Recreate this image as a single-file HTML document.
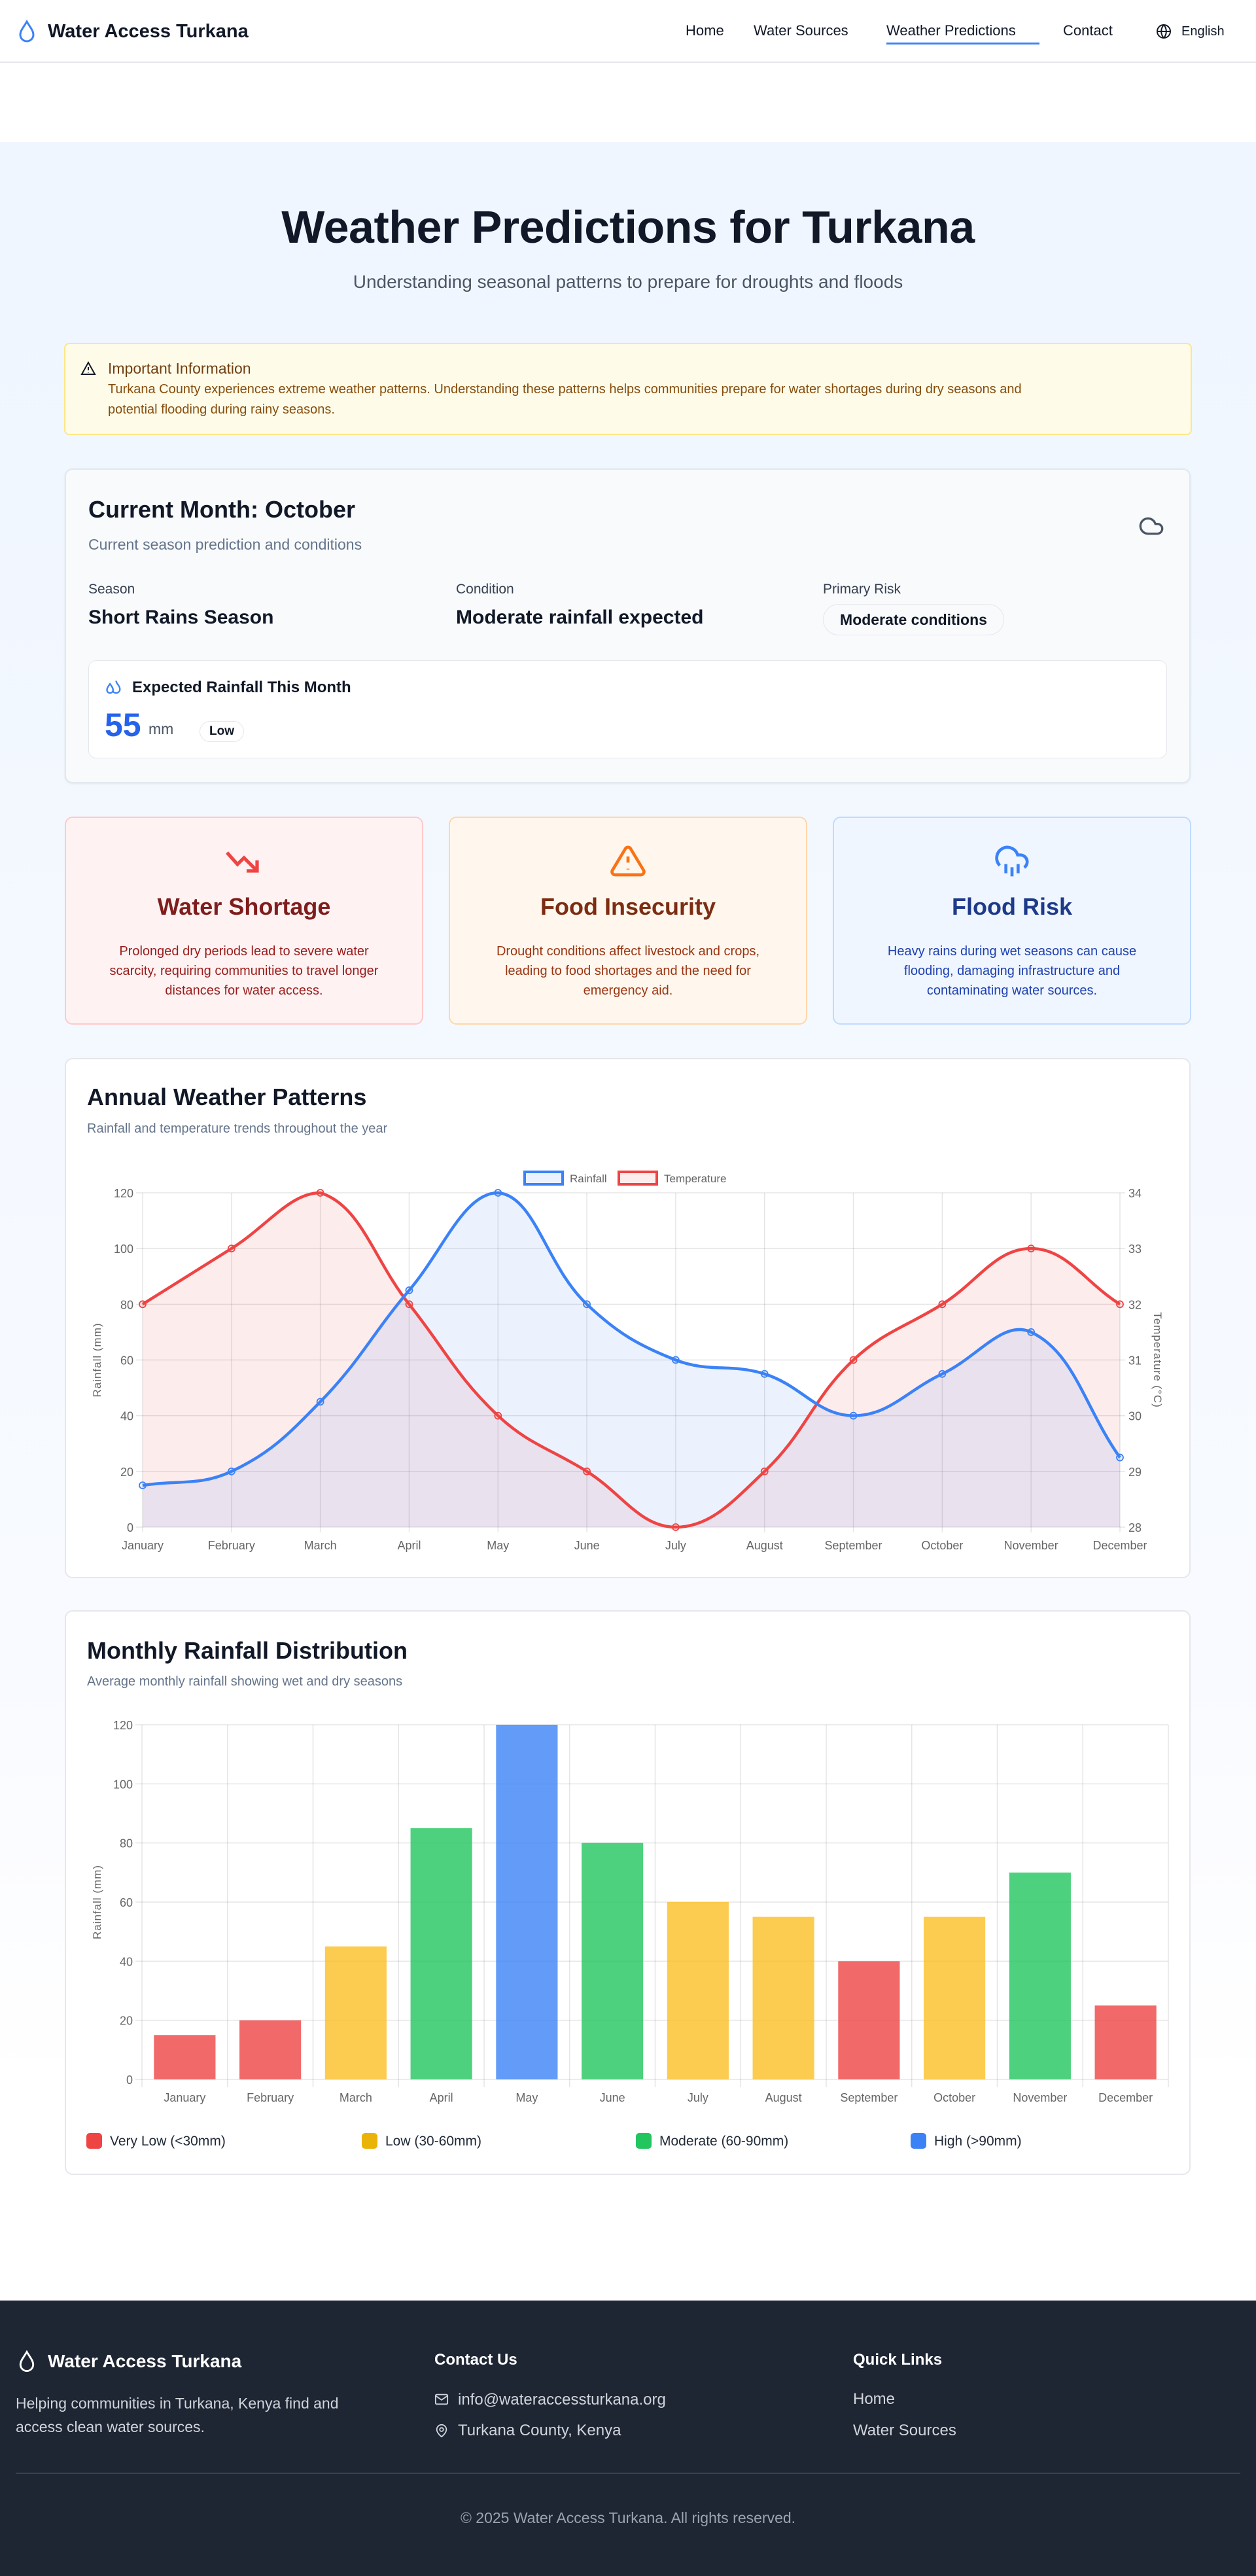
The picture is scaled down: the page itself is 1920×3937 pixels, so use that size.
<!DOCTYPE html>
<html><head><meta charset="utf-8"><title>Weather Predictions for Turkana</title>
<style>
*{margin:0;padding:0;box-sizing:border-box}
body{width:1920px;height:3937px;position:relative;font-family:"Liberation Sans",sans-serif;color:#111827;background:#fff;overflow:hidden}
.a{position:absolute;white-space:nowrap}
.card{position:absolute;border-radius:12px}
svg{position:absolute;left:0}
</style></head><body>
<div class="a" style="left:0;top:217px;width:1920px;height:3299px;background:linear-gradient(#eff6ff,#f8faff 70%,#ffffff 90%)"></div>

<!-- NAV -->
<div class="a" style="left:0;top:0;width:1920px;height:96px;background:#fff;border-bottom:2px solid #e5e7eb"></div>
<svg style="left:26px;top:30px" width="30" height="36" viewBox="0 0 24 28"><path d="M12 2C8 9 4 13 4 18a8 8 0 0 0 16 0c0-5-4-9-8-16z" fill="none" stroke="#3b82f6" stroke-width="2.4"/></svg>
<div class="a" style="left:73px;top:30px;font-size:29px;font-weight:bold;line-height:36px">Water Access Turkana</div>
<div class="a" style="left:1048px;top:33px;font-size:22px;line-height:28px">Home</div>
<div class="a" style="left:1152px;top:33px;font-size:22px;line-height:28px">Water Sources</div>
<div class="a" style="left:1355px;top:33px;font-size:22px;line-height:28px;width:234px">Weather Predictions</div>
<div class="a" style="left:1355px;top:65px;width:234px;height:3px;background:#3b82f6"></div>
<div class="a" style="left:1625px;top:33px;font-size:22px;line-height:28px">Contact</div>
<svg style="left:1767px;top:36px" width="24" height="24" viewBox="0 0 24 24"><g fill="none" stroke="#111827" stroke-width="2"><circle cx="12" cy="12" r="10"/><path d="M2 12h20M12 2a15 15 0 0 1 0 20M12 2a15 15 0 0 0 0 20"/></g></svg>
<div class="a" style="left:1806px;top:35px;font-size:20px;line-height:26px">English</div>

<!-- HERO -->
<div class="a" style="left:0;width:1920px;text-align:center;top:305px;font-size:70px;font-weight:bold;line-height:84px;letter-spacing:-0.5px">Weather Predictions for Turkana</div>
<div class="a" style="left:0;width:1920px;text-align:center;top:414px;font-size:28px;line-height:34px;color:#4b5563">Understanding seasonal patterns to prepare for droughts and floods</div>

<!-- ALERT -->
<div class="card" style="left:98px;top:524px;width:1724px;height:141px;background:#fefce8;border:2px solid #fde68a;border-radius:8px"></div>
<svg style="left:123px;top:551px" width="24" height="24" viewBox="0 0 24 24"><g fill="none" stroke="#111827" stroke-width="2"><path d="M12 3 2 21h20z"/><path d="M12 10v5M12 18v.5"/></g></svg>
<div class="a" style="left:165px;top:549px;font-size:23px;line-height:28px;color:#713f12">Important Information</div>
<div class="a" style="left:165px;top:580px;font-size:20px;line-height:31px;color:#854d0e;white-space:normal;width:1580px">Turkana County experiences extreme weather patterns. Understanding these patterns helps communities prepare for water shortages during dry seasons and<br>potential flooding during rainy seasons.</div>

<!-- CURRENT MONTH -->
<div class="card" style="left:99px;top:716px;width:1721px;height:481px;background:#f8fafc;border:2px solid #e2e8f0;box-shadow:0 1px 3px rgba(0,0,0,.08)"></div>
<div class="a" style="left:135px;top:757px;font-size:36px;line-height:44px;font-weight:600">Current Month: October</div>
<div class="a" style="left:135px;top:817px;font-size:23px;line-height:30px;color:#64748b">Current season prediction and conditions</div>
<svg style="left:1737px;top:784px" width="46" height="40" viewBox="0 0 24 24"><path d="M17.5 19H9a7 7 0 1 1 6.7-9h1.8a4.5 4.5 0 1 1 0 9z" fill="none" stroke="#4b5563" stroke-width="2"/></svg>
<div class="a" style="left:135px;top:888px;font-size:21px;line-height:26px;color:#374151">Season</div>
<div class="a" style="left:135px;top:926px;font-size:30px;line-height:36px;font-weight:600">Short Rains Season</div>
<div class="a" style="left:697px;top:888px;font-size:21px;line-height:26px;color:#374151">Condition</div>
<div class="a" style="left:697px;top:926px;font-size:30px;line-height:36px;font-weight:600">Moderate rainfall expected</div>
<div class="a" style="left:1258px;top:888px;font-size:21px;line-height:26px;color:#374151">Primary Risk</div>
<div class="a" style="left:1258px;top:923px;width:277px;height:48px;border:1px solid #e5e7eb;border-radius:24px;background:#f8fafc;font-size:23px;font-weight:600;line-height:46px;text-align:center">Moderate conditions</div>
<div class="card" style="left:135px;top:1009px;width:1649px;height:150px;background:#fff;border:1px solid #e5e7eb"></div>
<svg style="left:160px;top:1037px" width="28" height="28" viewBox="0 0 24 24"><g fill="none" stroke="#3b82f6" stroke-width="2"><path d="M7 7c-2 3-4 5-4 8a4 4 0 0 0 8 0c0-3-2-5-4-8z"/><path d="M15 3c0 4 5 6 5 11a5 5 0 0 1-9 3"/></g></svg>
<div class="a" style="left:202px;top:1036px;font-size:24px;line-height:30px;font-weight:600">Expected Rainfall This Month</div>
<div class="a" style="left:160px;top:1080px;font-size:50px;line-height:56px;font-weight:bold;color:#2563eb">55</div>
<div class="a" style="left:227px;top:1100px;font-size:23px;line-height:28px;color:#4b5563">mm</div>
<div class="a" style="left:305px;top:1102px;width:68px;height:32px;border:1px solid #e5e7eb;border-radius:16px;font-size:19px;font-weight:600;line-height:30px;text-align:center">Low</div>

<!-- RISK CARDS -->
<div class="card" style="left:99px;top:1248px;width:548px;height:318px;background:#fef2f2;border:2px solid #fecaca"></div>
<svg style="left:343px;top:1297px" width="60" height="40" viewBox="0 0 30 20"><path d="M2 3l8 9 5-5 10 10M17 17h8v-8" fill="none" stroke="#ef4444" stroke-width="2.6"/></svg>
<div class="a" style="left:99px;width:548px;text-align:center;top:1364px;font-size:36px;line-height:44px;font-weight:600;color:#7f1d1d">Water Shortage</div>
<div class="a" style="left:148px;width:450px;white-space:normal;text-align:center;top:1439px;font-size:20px;line-height:30px;color:#991b1b">Prolonged dry periods lead to severe water scarcity, requiring communities to travel longer distances for water access.</div>

<div class="card" style="left:686px;top:1248px;width:548px;height:318px;background:#fff7ed;border:2px solid #fed7aa"></div>
<svg style="left:932px;top:1288px" width="56" height="56" viewBox="0 0 24 24"><g fill="none" stroke="#f97316" stroke-width="2"><path d="M10.3 3.9 1.8 18a2 2 0 0 0 1.7 3h17a2 2 0 0 0 1.7-3L13.7 3.9a2 2 0 0 0-3.4 0z"/><path d="M12 9v4M12 17v.5"/></g></svg>
<div class="a" style="left:686px;width:548px;text-align:center;top:1364px;font-size:36px;line-height:44px;font-weight:600;color:#7c2d12">Food Insecurity</div>
<div class="a" style="left:730px;width:460px;white-space:normal;text-align:center;top:1439px;font-size:20px;line-height:30px;color:#9a3412">Drought conditions affect livestock and crops, leading to food shortages and the need for emergency aid.</div>

<div class="card" style="left:1273px;top:1248px;width:548px;height:318px;background:#eff6ff;border:2px solid #bfdbfe"></div>
<svg style="left:1519px;top:1288px" width="56" height="56" viewBox="0 0 24 24"><g fill="none" stroke="#3b82f6" stroke-width="2"><path d="M4 14.9A7 7 0 1 1 15.7 8h1.8a4.5 4.5 0 0 1 2.5 8.2"/><path d="M16 14v6M8 14v6M12 16v6"/></g></svg>
<div class="a" style="left:1273px;width:548px;text-align:center;top:1364px;font-size:36px;line-height:44px;font-weight:600;color:#1e3a8a">Flood Risk</div>
<div class="a" style="left:1322px;width:450px;white-space:normal;text-align:center;top:1439px;font-size:20px;line-height:30px;color:#1e40af">Heavy rains during wet seasons can cause flooding, damaging infrastructure and contaminating water sources.</div>

<!-- CHART 1 -->
<div class="card" style="left:99px;top:1617px;width:1721px;height:795px;background:#fff;border:2px solid #e5e7eb"></div>
<div class="a" style="left:133px;top:1655px;font-size:36px;line-height:44px;font-weight:600">Annual Weather Patterns</div>
<div class="a" style="left:133px;top:1712px;font-size:20px;line-height:26px;color:#64748b">Rainfall and temperature trends throughout the year</div>
<svg id="c1" style="top:1780px" width="1920" height="620" viewBox="0 1780 1920 620"></svg>

<!-- CHART 2 -->
<div class="card" style="left:99px;top:2461px;width:1721px;height:863px;background:#fff;border:2px solid #e5e7eb"></div>
<div class="a" style="left:133px;top:2501px;font-size:36px;line-height:44px;font-weight:600">Monthly Rainfall Distribution</div>
<div class="a" style="left:133px;top:2557px;font-size:20px;line-height:26px;color:#64748b">Average monthly rainfall showing wet and dry seasons</div>
<svg id="c2" style="top:2610px" width="1920" height="620" viewBox="0 2610 1920 620"></svg>
<div class="a" style="left:132px;top:3260px;font-size:21px;line-height:26px;color:#1f2937"><span style="display:inline-block;width:24px;height:24px;border-radius:5px;background:#ef4444;vertical-align:-5px;margin-right:12px"></span>Very Low (&lt;30mm)</div>
<div class="a" style="left:553px;top:3260px;font-size:21px;line-height:26px;color:#1f2937"><span style="display:inline-block;width:24px;height:24px;border-radius:5px;background:#eab308;vertical-align:-5px;margin-right:12px"></span>Low (30-60mm)</div>
<div class="a" style="left:972px;top:3260px;font-size:21px;line-height:26px;color:#1f2937"><span style="display:inline-block;width:24px;height:24px;border-radius:5px;background:#22c55e;vertical-align:-5px;margin-right:12px"></span>Moderate (60-90mm)</div>
<div class="a" style="left:1392px;top:3260px;font-size:21px;line-height:26px;color:#1f2937"><span style="display:inline-block;width:24px;height:24px;border-radius:5px;background:#3b82f6;vertical-align:-5px;margin-right:12px"></span>High (&gt;90mm)</div>

<!-- FOOTER -->
<div class="a" style="left:0;top:3516px;width:1920px;height:421px;background:#1e2533"></div>
<svg style="left:26px;top:3592px" width="30" height="34" viewBox="0 0 24 28"><path d="M12 2C8 9 4 13 4 18a8 8 0 0 0 16 0c0-5-4-9-8-16z" fill="none" stroke="#fff" stroke-width="2.4"/></svg>
<div class="a" style="left:73px;top:3592px;font-size:28px;font-weight:bold;line-height:34px;color:#fff">Water Access Turkana</div>
<div class="a" style="left:24px;top:3655px;font-size:23px;line-height:36px;color:#d1d5db;white-space:normal;width:560px">Helping communities in Turkana, Kenya find and access clean water sources.</div>
<div class="a" style="left:664px;top:3592px;font-size:24px;font-weight:bold;line-height:30px;color:#fff">Contact Us</div>
<svg style="left:664px;top:3656px" width="22" height="22" viewBox="0 0 24 24"><g fill="none" stroke="#d1d5db" stroke-width="2"><rect x="2" y="4" width="20" height="16" rx="2"/><path d="m2 6 10 7 10-7"/></g></svg>
<div class="a" style="left:700px;top:3653px;font-size:24px;line-height:30px;color:#d1d5db">info@wateraccessturkana.org</div>
<svg style="left:664px;top:3703px" width="22" height="24" viewBox="0 0 24 24"><g fill="none" stroke="#d1d5db" stroke-width="2"><path d="M20 10c0 6-8 12-8 12s-8-6-8-12a8 8 0 0 1 16 0z"/><circle cx="12" cy="10" r="3"/></g></svg>
<div class="a" style="left:700px;top:3700px;font-size:24px;line-height:30px;color:#d1d5db">Turkana County, Kenya</div>
<div class="a" style="left:1304px;top:3592px;font-size:24px;font-weight:bold;line-height:30px;color:#fff">Quick Links</div>
<div class="a" style="left:1304px;top:3652px;font-size:24px;line-height:30px;color:#d1d5db">Home</div>
<div class="a" style="left:1304px;top:3700px;font-size:24px;line-height:30px;color:#d1d5db">Water Sources</div>
<div class="a" style="left:24px;top:3779px;width:1872px;height:2px;background:#374151"></div>
<div class="a" style="left:0;width:1920px;text-align:center;top:3833px;font-size:23px;line-height:30px;color:#9ca3af">© 2025 Water Access Turkana. All rights reserved.</div>

<script>
const months=['January','February','March','April','May','June','July','August','September','October','November','December'];
const rainfall=[15,20,45,85,120,80,60,55,40,55,70,25];
const temperature=[32,33,34,32,30,29,28,29,31,32,33,32];
const rainTicks=[0,20,40,60,80,100,120];
const tempTicks=[28,29,30,31,32,33,34];
const barRainfall=[15,20,45,85,120,80,60,55,40,55,70,25];
const barCategory=['veryLow','veryLow','low','moderate','high','moderate','low','low','veryLow','low','moderate','veryLow'];
const categoryColor={veryLow:'rgba(239,68,68,0.8)',low:'rgba(251,191,36,0.8)',moderate:'rgba(34,197,94,0.8)',high:'rgba(59,130,246,0.8)'};

const NS='http://www.w3.org/2000/svg';
function mk(svg,tag,attrs,name){const e=document.createElementNS(NS,tag);for(const k in attrs)e.setAttribute(k,attrs[k]);


svg.appendChild(e);return e;}
function txt(svg,x,y,s,name,extra){const e=mk(svg,'text',Object.assign({x:x,y:y,'font-size':18,fill:'#666','font-family':'Liberation Sans, sans-serif'},extra||{}),name);e.textContent=s;return e;}

// Chart 1
(function(){
const svg=document.getElementById('c1');
const L=218,R=1712,T=1823,B=2334;
const rMax=120,tMin=28,tMax=34;
const X=i=>L+i*(R-L)/(months.length-1);
const YR=v=>B-(v/rMax)*(B-T);
const YT=v=>B-((v-tMin)/(tMax-tMin))*(B-T);
rainTicks.forEach(v=>{mk(svg,'line',{x1:L-10,x2:R,y1:YR(v),y2:YR(v),stroke:'rgba(0,0,0,0.1)','stroke-width':1.5},'grid-line-y');
txt(svg,L-14,YR(v)+7,v,'rain-tick-label',{'text-anchor':'end'});});
tempTicks.forEach(v=>{mk(svg,'line',{x1:R,x2:R+8,y1:YT(v),y2:YT(v),stroke:'rgba(0,0,0,0.1)','stroke-width':1.5},'temp-tick-mark');
txt(svg,R+13,YT(v)+7,v,'temp-tick-label');});
months.forEach((m,i)=>{mk(svg,'line',{x1:X(i),x2:X(i),y1:T,y2:B+8,stroke:'rgba(0,0,0,0.1)','stroke-width':1.5},'grid-line-x');
txt(svg,X(i),B+34,m,'month-label',{'text-anchor':'middle'});});
txt(svg,0,0,'Rainfall (mm)','y-axis-title-left',{'text-anchor':'middle',transform:'translate(154,'+((T+B)/2)+') rotate(-90)','font-size':17,'letter-spacing':1});
txt(svg,0,0,'Temperature (°C)','y-axis-title-right',{'text-anchor':'middle',transform:'translate(1764,'+((T+B)/2)+') rotate(90)','font-size':17,'letter-spacing':1});
function path(pts){
 const t=0.4;const cps=pts.map((p,i)=>{const pr=pts[Math.max(i-1,0)],nx=pts[Math.min(i+1,pts.length-1)];
  const d01=Math.hypot(p[0]-pr[0],p[1]-pr[1]),d12=Math.hypot(nx[0]-p[0],nx[1]-p[1]);
  let s01=d01/(d01+d12),s12=d12/(d01+d12);if(isNaN(s01))s01=0;if(isNaN(s12))s12=0;
  const fa=t*s01,fb=t*s12;const cl=(x,y)=>[Math.min(Math.max(x,L),R),Math.min(Math.max(y,T),B)];
  return {p:cl(p[0]-fa*(nx[0]-pr[0]),p[1]-fa*(nx[1]-pr[1])),n:cl(p[0]+fb*(nx[0]-pr[0]),p[1]+fb*(nx[1]-pr[1]))};});
 let d='M'+pts[0][0]+','+pts[0][1];
 for(let i=1;i<pts.length;i++){d+=' C'+cps[i-1].n[0]+','+cps[i-1].n[1]+' '+cps[i].p[0]+','+cps[i].p[1]+' '+pts[i][0]+','+pts[i][1];}
 return d;}
const series=[{vals:temperature,y:YT,c:'#ef4444',f:'rgba(239,68,68,0.1)',n:'temperature'},{vals:rainfall,y:YR,c:'#3b82f6',f:'rgba(59,130,246,0.1)',n:'rainfall'}];
series.forEach(s=>{const pts=s.vals.map((v,i)=>[X(i),s.y(v)]);const d=path(pts);
 mk(svg,'path',{d:d+' L'+X(s.vals.length-1)+','+B+' L'+X(0)+','+B+' Z',fill:s.f,stroke:'none'},s.n+'-area');});
series.forEach(s=>{const pts=s.vals.map((v,i)=>[X(i),s.y(v)]);
 mk(svg,'path',{d:path(pts),fill:'none',stroke:s.c,'stroke-width':4.5},s.n+'-line');
 pts.forEach(p=>mk(svg,'circle',{cx:p[0],cy:p[1],r:5,fill:s.f,stroke:s.c,'stroke-width':1.8},s.n+'-point'));});
mk(svg,'rect',{x:802,y:1791,width:58,height:19,fill:'rgba(59,130,246,0.1)',stroke:'#3b82f6','stroke-width':4},'legend-rainfall-swatch');
txt(svg,871,1807,'Rainfall','legend-rainfall-label',{'font-size':17});
mk(svg,'rect',{x:946,y:1791,width:58,height:19,fill:'rgba(239,68,68,0.1)',stroke:'#ef4444','stroke-width':4},'legend-temperature-swatch');
txt(svg,1015,1807,'Temperature','legend-temperature-label',{'font-size':17});
})();

// Chart 2
(function(){
const svg=document.getElementById('c2');
const L=217,R=1786,T=2636,B=3178,max=120;
const band=(R-L)/months.length;
const Y=v=>B-(v/max)*(B-T);
rainTicks.forEach(v=>{mk(svg,'line',{x1:L-10,x2:R,y1:Y(v),y2:Y(v),stroke:'rgba(0,0,0,0.1)','stroke-width':1.5},'grid-line-y');
txt(svg,L-14,Y(v)+7,v,'y-tick-label',{'text-anchor':'end'});});
for(let i=0;i<=months.length;i++){mk(svg,'line',{x1:L+i*band,x2:L+i*band,y1:T,y2:B+12,stroke:'rgba(0,0,0,0.1)','stroke-width':1.5},'grid-line-x');}
months.forEach((m,i)=>txt(svg,L+(i+0.5)*band,B+34,m,'month-label',{'text-anchor':'middle'}));
txt(svg,0,0,'Rainfall (mm)','y-axis-title',{'text-anchor':'middle',transform:'translate(154,'+((T+B)/2)+') rotate(-90)','font-size':17,'letter-spacing':1});
barRainfall.forEach((v,i)=>{const w=band*0.72;
 mk(svg,'rect',{x:L+(i+0.5)*band-w/2,y:Y(v),width:w,height:B-Y(v),fill:categoryColor[barCategory[i]]},'bar-'+months[i].toLowerCase());});
})();
</script>
</body></html>
